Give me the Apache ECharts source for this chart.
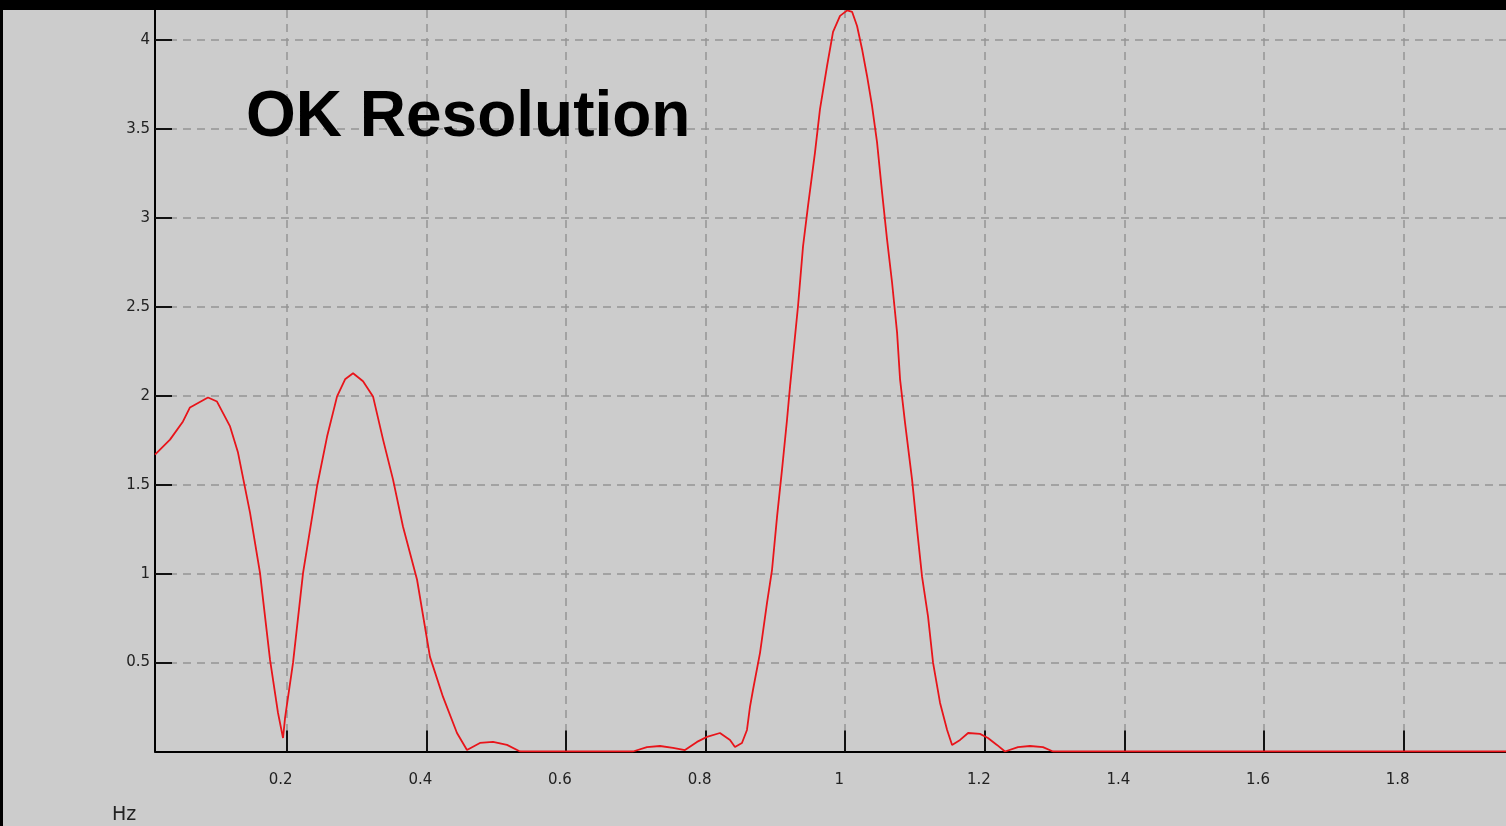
<!DOCTYPE html>
<html>
<head>
<meta charset="utf-8">
<script src="https://cdn.jsdelivr.net/npm/echarts@6/dist/echarts.min.js"></script>
<style>
  html, body { margin: 0; padding: 0; background: #000; width: 1506px; height: 826px; overflow: hidden; }
  #chart { position: absolute; left: 3px; top: 10px; width: 1503px; height: 816px; background: #cccccc; }
</style>
</head>
<body>
<div id="chart"></div>
<script>
// Frequency (Hz) of each sample on the spectrum curve
const freqs = [
  0.0113, 0.0328, 0.0514, 0.0614, 0.0872, 0.1001, 0.1188, 0.1302, 0.1474, 0.1617,
  0.1761, 0.1875, 0.1947, 0.1976, 0.2090, 0.2234, 0.2434, 0.2578, 0.2721, 0.2836,
  0.2950, 0.3093, 0.3236, 0.3380, 0.3523, 0.3666, 0.3867, 0.4052, 0.4239, 0.4439,
  0.4582, 0.4768, 0.4955, 0.5155, 0.5342, 0.6960, 0.7160, 0.7347, 0.7533, 0.7705,
  0.7877, 0.8020, 0.8206, 0.8350, 0.8421, 0.8521, 0.8593, 0.8636, 0.8679, 0.8780,
  0.8880, 0.8952, 0.9024, 0.9095, 0.9167, 0.9210, 0.9324, 0.9396, 0.9467, 0.9568,
  0.9639, 0.9740, 0.9826, 0.9926, 1.0030, 1.0100, 1.0170, 1.0241, 1.0313, 1.0385,
  1.0456, 1.0528, 1.0599, 1.0671, 1.0743, 1.0786, 1.0857, 1.0958, 1.1030, 1.1101,
  1.1187, 1.1259, 1.1359, 1.1460, 1.1531, 1.1646, 1.1761, 1.1931, 1.2045, 1.2174,
  1.2289, 1.2475, 1.2647, 1.2833, 1.2977, 1.9466
];
// Amplitude at each frequency
const amps = [
  1.670, 1.754, 1.856, 1.935, 1.991, 1.968, 1.828, 1.681, 1.343, 1.005,
  0.515, 0.217, 0.076, 0.189, 0.498, 1.005, 1.490, 1.771, 1.997, 2.093,
  2.127, 2.082, 1.997, 1.754, 1.529, 1.264, 0.966, 0.532, 0.307, 0.104,
  0.008, 0.048, 0.054, 0.037, 0.000, 0.000, 0.025, 0.031, 0.020, 0.008,
  0.054, 0.082, 0.104, 0.065, 0.025, 0.048, 0.121, 0.251, 0.346, 0.555,
  0.836, 1.022, 1.321, 1.585, 1.867, 2.053, 2.504, 2.841, 3.067, 3.371,
  3.613, 3.855, 4.047, 4.137, 4.168, 4.159, 4.080, 3.951, 3.799, 3.630,
  3.427, 3.146, 2.881, 2.639, 2.357, 2.093, 1.850, 1.529, 1.248, 0.983,
  0.758, 0.498, 0.273, 0.121, 0.037, 0.065, 0.104, 0.099, 0.076, 0.037,
  0.000, 0.025, 0.031, 0.025, 0.000, 0.000
];
// Axis tick values
const xTicks = [0.2, 0.4, 0.6, 0.8, 1.0, 1.2, 1.4, 1.6, 1.8];
const yTicks = [0.5, 1, 1.5, 2, 2.5, 3, 3.5, 4];
const titleText = 'OK Resolution';
const xUnit = 'Hz';

const chart = echarts.init(document.getElementById('chart'), null, { renderer: 'canvas' });
const seriesData = freqs.map((f, i) => [f, amps[i]]);

const gridLineStyle = { color: '#949494', width: 1.5, type: [8, 6] };
const option = {
  backgroundColor: '#cccccc',
  animation: false,
  grid: { left: 152, right: 0, top: 0, bottom: 74.5, containLabel: false },
  xAxis: {
    type: 'value',
    min: 0.0113,
    max: 1.9466,
    axisLine: { show: true, onZero: false, lineStyle: { color: '#000', width: 2 } },
    axisTick: { show: true, inside: true, length: 21, customValues: xTicks, lineStyle: { color: '#111', width: 2 } },
    axisLabel: {
      customValues: xTicks,
      margin: 21,
      color: '#222',
      fontFamily: 'DejaVu Sans',
      fontSize: 15,
      padding: [0, 12, 0, 0],
      formatter: v => String(Math.round(v * 10) / 10)
    },
    splitLine: { show: true, lineStyle: gridLineStyle }
  },
  yAxis: {
    type: 'value',
    min: 0,
    max: 4.17,
    interval: 0.5,
    axisLine: { show: true, lineStyle: { color: '#000', width: 2 } },
    axisTick: { show: true, inside: true, length: 17, customValues: yTicks, lineStyle: { color: '#111', width: 2 } },
    axisLabel: {
      customValues: yTicks,
      margin: 5,
      color: '#222',
      fontFamily: 'DejaVu Sans',
      fontSize: 15,
      padding: [6, 0, 0, 0]
    },
    splitLine: { show: true, lineStyle: gridLineStyle }
  },
  series: [{
    type: 'line',
    data: seriesData,
    showSymbol: false,
    symbol: 'none',
    smooth: false,
    clip: true,
    lineStyle: { color: '#e8141a', width: 1.8 },
    z: 5
  }],
  graphic: [
    {
      type: 'text',
      left: 243,
      top: 76,
      z: 10,
      style: { text: titleText, fill: '#000', font: 'bold 64px "Liberation Sans", Arial, sans-serif' }
    },
    {
      type: 'text',
      left: 109,
      top: 796,
      z: 10,
      style: { text: xUnit, fill: '#222', font: '19px "DejaVu Sans", sans-serif' }
    }
  ]
};
chart.setOption(option);
</script>
</body>
</html>
